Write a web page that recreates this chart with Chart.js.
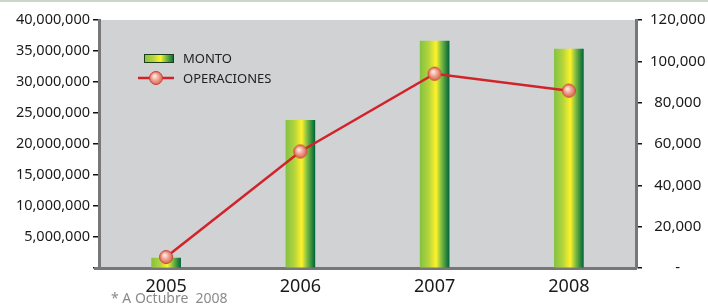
<!DOCTYPE html>
<html><head><meta charset="utf-8">
<script src="https://cdn.jsdelivr.net/npm/chart.js@4/dist/chart.umd.min.js"></script>
<style>html,body{margin:0;padding:0;background:#fff;}#wrap{width:708px;height:308px;position:relative;}</style>
</head><body><div id="wrap"><canvas id="c" width="708" height="308"></canvas></div>
<script>
const years = ['2005','2006','2007','2008'];
const monto = [1600000, 23800000, 36600000, 35300000];
const operaciones = [5300, 56400, 94000, 85800];
const leftTicks = [0,5000000,10000000,15000000,20000000,25000000,30000000,35000000,40000000];
const rightTicks = [0,20000,40000,60000,80000,100000,120000];
const legendLabels = ['MONTO','OPERACIONES'];
const footnote = '* A Octubre  2008';

const FONT = '"Noto Sans", sans-serif';
function fmt(v){return v.toLocaleString('en-US');}

// point image
const pt = document.createElement('canvas');
pt.width = 16; pt.height = 16;
(function(){
  const g = pt.getContext('2d');
  const rg = g.createRadialGradient(6.5,6,1,8,8,7);
  rg.addColorStop(0,'#fde3da');
  rg.addColorStop(0.5,'#ef9a88');
  rg.addColorStop(1,'#d9604e');
  g.beginPath(); g.arc(8,8,6.5,0,Math.PI*2);
  g.fillStyle = rg; g.fill();
  g.lineWidth = 1; g.strokeStyle = '#c8423a'; g.stroke();
})();

function barGrad(ctx, x0, x1){
  const gr = ctx.createLinearGradient(x0,0,x1,0);
  gr.addColorStop(0,'#84c341');
  gr.addColorStop(0.3,'#b5d53b');
  gr.addColorStop(0.55,'#fff22a');
  gr.addColorStop(0.72,'#84c043');
  gr.addColorStop(1,'#00673a');
  return gr;
}
const BW = 29;

const bgPlugin = {
  id:'bg',
  beforeDraw(chart){
    const {ctx, chartArea:a} = chart;
    ctx.save();
    ctx.fillStyle = '#d1d2d4';
    ctx.fillRect(a.left, a.top, a.right-a.left, a.bottom-a.top);
    ctx.fillStyle = '#c9d8c6';
    ctx.fillRect(0,0,chart.width,2);
    ctx.restore();
  },
  afterDraw(chart){
    const {ctx, chartArea:a} = chart;
    ctx.save();
    // axis extensions
    ctx.strokeStyle = '#777'; ctx.lineWidth = 3;
    ctx.beginPath(); ctx.moveTo(a.left-5, a.bottom+0.5); ctx.lineTo(a.left, a.bottom+0.5); ctx.stroke();
    // legend
    const lx = a.left + 45, ly1 = a.top + 38, ly2 = a.top + 58;
    ctx.fillStyle = barGrad(ctx, lx, lx+30);
    ctx.fillRect(lx, ly1-4, 30, 9);
    ctx.strokeStyle = '#1d3d1d'; ctx.lineWidth = 1;
    ctx.strokeRect(lx+0.5, ly1-3.5, 29, 8);
    ctx.strokeStyle = '#d2232a'; ctx.lineWidth = 2.5;
    ctx.beginPath(); ctx.moveTo(lx-6, ly2); ctx.lineTo(lx+30, ly2); ctx.stroke();
    ctx.drawImage(pt, lx+12-8, ly2-8);
    ctx.fillStyle = '#222';
    ctx.font = '13px ' + FONT;
    ctx.textBaseline = 'middle'; ctx.textAlign = 'left';
    ctx.fillText(legendLabels[0], lx+39, ly1+1);
    ctx.fillText(legendLabels[1], lx+39, ly2+1);
    // footnote
    ctx.fillStyle = '#8a8a8a';
    ctx.font = '14px ' + FONT;
    ctx.fillText(footnote, 111, 299);
    ctx.restore();
  }
};

new Chart(document.getElementById('c'), {
  data: {
    labels: years,
    datasets: [
      {type:'line', label:legendLabels[1], data:operaciones, yAxisID:'y1', order:0,
       borderColor:'#d2232a', borderWidth:2.5, tension:0,
       pointStyle: pt, pointRadius:7, pointHoverRadius:7},
      {type:'bar', label:legendLabels[0], data:monto, yAxisID:'y', order:1,
       barThickness: BW,
       backgroundColor: (c)=>{
         const ch = c.chart;
         if(!ch.chartArea || !ch.scales.x) return '#b5d53b';
         const x = ch.scales.x.getPixelForValue(c.dataIndex);
         return barGrad(ch.ctx, x-BW/2, x+BW/2);
       }}
    ]
  },
  options: {
    responsive:false, animation:false,
    layout:{padding:{top:20,left:0,right:0,bottom:0}},
    plugins:{legend:{display:false}, tooltip:{enabled:false}},
    scales:{
      x:{
        offset:true,
        grid:{display:false},
        border:{display:true,color:'#777',width:3},
        ticks:{color:'#1a1a1a',font:{family:FONT,size:18},padding:0},
        afterFit(s){s.height=40;}
      },
      y:{
        position:'left', min:0, max:40000000,
        afterBuildTicks(s){s.ticks = leftTicks.map(v=>({value:v}));},
        grid:{drawOnChartArea:false, drawTicks:true, tickLength:6, color:'#111', lineWidth:1.5},
        border:{display:true,color:'#777',width:3},
        ticks:{color:'#1a1a1a',font:{family:FONT,size:14.5},padding:3,
          callback:(v)=> v===0 ? '' : fmt(v)},
        afterFit(s){s.width=99;}
      },
      y1:{
        position:'right', min:0, max:120000,
        afterBuildTicks(s){s.ticks = rightTicks.map(v=>({value:v}));},
        grid:{drawOnChartArea:false, drawTicks:true, tickLength:6, color:'#111', lineWidth:1.5},
        border:{display:true,color:'#777',width:3},
        ticks:{color:'#1a1a1a',font:{family:FONT,size:15},padding:8, crossAlign:'center',
          callback:(v)=> v===0 ? '-' : fmt(v)},
        afterFit(s){s.width=72;}
      }
    }
  },
  plugins:[bgPlugin]
});
</script></body></html>
